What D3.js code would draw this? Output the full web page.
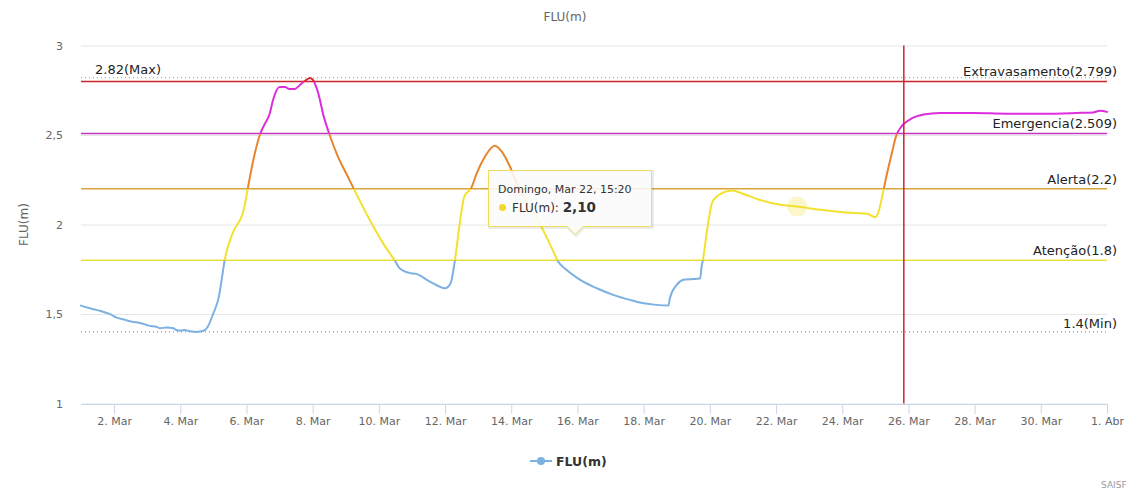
<!DOCTYPE html>
<html>
<head>
<meta charset="utf-8">
<script src="https://cdn.jsdelivr.net/npm/d3@7/dist/d3.min.js"></script>
<style>
  html, body { margin: 0; padding: 0; background: #fff; }
  svg { display: block; font-family: "DejaVu Sans", sans-serif; }
</style>
</head>
<body>
<svg id="chart" width="1129" height="492"></svg>
<script>
// ---------- data ----------
const times = [
  "2020-03-01 00:00","2020-03-01 09:00","2020-03-01 14:00","2020-03-01 21:00",
  "2020-03-02 02:00","2020-03-02 08:00","2020-03-02 13:00","2020-03-02 16:00","2020-03-02 21:00",
  "2020-03-03 01:00","2020-03-03 07:00","2020-03-03 09:00","2020-03-03 14:00","2020-03-03 19:00","2020-03-03 21:00",
  "2020-03-04 01:00","2020-03-04 03:00","2020-03-04 07:00","2020-03-04 12:00","2020-03-04 14:00","2020-03-04 18:00","2020-03-04 20:00",
  "2020-03-05 00:00","2020-03-05 04:00","2020-03-05 06:00","2020-03-05 08:00","2020-03-05 14:00","2020-03-05 22:00",
  "2020-03-06 01:00","2020-03-06 05:00","2020-03-06 10:00","2020-03-06 13:00","2020-03-06 17:00","2020-03-06 19:00",
  "2020-03-07 00:00","2020-03-07 04:00","2020-03-07 07:00","2020-03-07 11:00","2020-03-07 15:00","2020-03-07 18:00","2020-03-07 22:00",
  "2020-03-08 00:00","2020-03-08 04:00","2020-03-08 08:00","2020-03-08 12:00","2020-03-08 18:00",
  "2020-03-09 01:00","2020-03-09 13:00","2020-03-09 20:00",
  "2020-03-10 03:00","2020-03-10 12:00","2020-03-10 15:00","2020-03-10 23:00",
  "2020-03-11 03:00","2020-03-11 13:00",
  "2020-03-12 00:00","2020-03-12 04:00","2020-03-12 07:00","2020-03-12 11:00","2020-03-12 14:00","2020-03-12 19:00","2020-03-12 23:00",
  "2020-03-13 05:00","2020-03-13 12:00","2020-03-13 17:00","2020-03-13 23:00",
  "2020-03-14 04:00","2020-03-14 23:00",
  "2020-03-15 06:00","2020-03-15 10:00","2020-03-15 16:00",
  "2020-03-16 02:00","2020-03-16 14:00",
  "2020-03-17 02:00","2020-03-17 14:00",
  "2020-03-18 00:00","2020-03-18 09:00","2020-03-18 18:00","2020-03-18 19:00",
  "2020-03-19 00:00","2020-03-19 05:00","2020-03-19 12:00","2020-03-19 17:00","2020-03-19 18:00","2020-03-19 19:00","2020-03-19 22:00",
  "2020-03-20 02:00","2020-03-20 09:00","2020-03-20 16:00",
  "2020-03-21 00:00","2020-03-21 12:00",
  "2020-03-22 03:00","2020-03-22 15:20",
  "2020-03-23 08:00",
  "2020-03-24 03:00","2020-03-24 18:00",
  "2020-03-25 00:00","2020-03-25 02:00","2020-03-25 06:00","2020-03-25 08:00","2020-03-25 12:00","2020-03-25 15:00","2020-03-25 19:00",
  "2020-03-26 01:00","2020-03-26 11:00","2020-03-26 23:00",
  "2020-03-27 23:00","2020-03-28 23:00","2020-03-30 02:00","2020-03-31 02:00",
  "2020-03-31 14:00","2020-03-31 19:00","2020-04-01 00:00"
];
const levels = [
  1.547,1.527,1.517,1.499,
  1.480,1.467,1.457,1.454,1.446,
  1.435,1.428,1.421,1.424,1.421,1.411,
  1.407,1.411,1.404,1.400,1.402,1.411,1.430,
  1.504,1.597,1.691,1.793,1.952,2.082,
  2.204,2.362,2.507,2.558,2.623,2.688,
  2.768,2.768,2.757,2.757,2.781,2.800,2.819,
  2.809,2.735,2.604,2.507,2.385,
  2.275,2.090,1.989,
  1.896,1.793,1.756,1.728,
  1.724,1.681,
  1.644,1.672,1.793,2.026,2.157,2.204,2.287,
  2.380,2.440,2.408,2.324,
  2.232,1.970,
  1.858,1.793,1.747,
  1.691,1.644,
  1.607,1.579,
  1.560,1.551,1.547,1.588,
  1.663,1.691,1.695,1.700,1.765,1.803,1.970,
  2.129,2.176,2.190,
  2.172,2.138,
  2.110,2.100,
  2.082,
  2.067,2.060,
  2.041,2.064,2.194,2.268,2.399,2.492,2.548,
  2.586,2.614,2.623,
  2.623,2.619,2.619,2.623,
  2.626,2.636,2.629
];
// reference levels
const refNames  = ["Extravasamento", "Emergencia", "Alerta", "Atenção"];
const refValues = [2.799, 2.509, 2.2, 1.8];
const refColors = ["#c9262c", "#c236c2", "#d6a53c", "#ebdf3e"];
const maxValue = 2.82, minValue = 1.4;
// zones of the series colour
const zoneLimits = [1.0, 1.8, 2.2, 2.509, 2.799, 3.0];
const zoneColors = ["#7cb1e2", "#f2e12e", "#e8852c", "#dc2edc", "#e0262a"];
const yTicks = [1, 1.5, 2, 2.5, 3];
const xTickDays = ["2020-03-02","2020-03-04","2020-03-06","2020-03-08","2020-03-10","2020-03-12","2020-03-14",
  "2020-03-16","2020-03-18","2020-03-20","2020-03-22","2020-03-24","2020-03-26","2020-03-28","2020-03-30","2020-04-01"];
const monthsPt = ["Jan","Fev","Mar","Abr","Mai","Jun","Jul","Ago","Set","Out","Nov","Dez"];
const nowLine = "2020-03-25 20:40";
const hoverTime = "2020-03-22 15:20";
const seriesName = "FLU(m)";

// ---------- chart ----------
const parse = d3.timeParse("%Y-%m-%d %H:%M");
const parseDay = d3.timeParse("%Y-%m-%d");
const data = times.map((t, i) => ({ t: parse(t), v: levels[i] }));

const svg = d3.select("#chart");
const pLeft = 81, pRight = 1107, pTop = 45.5, pBottom = 403.5;

const x = d3.scaleTime().domain(d3.extent(data, d => d.t)).range([pLeft, pRight]);
const y = d3.scaleLinear().domain([1, 3]).range([pBottom, pTop]);

// title
svg.append("text").attr("x", 565).attr("y", 21).attr("text-anchor", "middle")
  .attr("fill", "#666").attr("font-size", 12).text(seriesName);

// grid
svg.append("g").selectAll("line").data(yTicks).join("line")
  .attr("x1", pLeft).attr("x2", pRight)
  .attr("y1", d => y(d) + 0.5).attr("y2", d => y(d) + 0.5)
  .attr("stroke", "#e6e6e6").attr("stroke-width", 1);

// y axis labels
const fmtComma = d => String(d).replace(".", ",");
svg.append("g").selectAll("text").data(yTicks).join("text")
  .attr("x", 63).attr("y", d => y(d) + 4).attr("text-anchor", "end")
  .attr("fill", "#666").attr("font-size", 11).text(fmtComma);
svg.append("text").attr("transform", `translate(28,${(pTop + pBottom) / 2}) rotate(-90)`)
  .attr("text-anchor", "middle").attr("fill", "#666").attr("font-size", 12).text(seriesName);

// x axis
const xTicks = xTickDays.map(parseDay);
const xAxis = d3.axisBottom(x).tickValues(xTicks).tickSize(10).tickSizeOuter(0)
  .tickFormat(d => d.getDate() + ". " + monthsPt[d.getMonth()]);
const gx = svg.append("g").attr("transform", `translate(0,${pBottom + 0.5})`).call(xAxis);
gx.select(".domain").attr("stroke", "#ccd6eb");
gx.selectAll(".tick line").attr("stroke", "#ccd6eb");
gx.selectAll(".tick text").attr("fill", "#666").attr("font-size", 11)
  .attr("font-family", "DejaVu Sans, sans-serif").attr("dy", "0.9em").attr("y", 11);

// max / min dotted lines
[[maxValue, "#999"], [minValue, "#777"]].forEach(([v, c]) => {
  svg.append("line").attr("x1", pLeft).attr("x2", pRight)
    .attr("y1", y(v)).attr("y2", y(v))
    .attr("stroke", c).attr("stroke-width", 1).attr("stroke-dasharray", "1,3");
});

// reference plot lines
refValues.forEach((v, i) => {
  svg.append("line").attr("x1", pLeft).attr("x2", pRight)
    .attr("y1", y(v)).attr("y2", y(v))
    .attr("stroke", refColors[i]).attr("stroke-width", 1.5);
});

// series with zones
const defs = svg.append("defs");
const line = d3.line().x(d => x(d.t)).y(d => y(d.v)).curve(d3.curveMonotoneX);
zoneColors.forEach((c, i) => {
  const lo = zoneLimits[i], hi = zoneLimits[i + 1];
  const id = "zone" + i;
  const yTopClip = i === zoneColors.length - 1 ? 0 : y(hi);
  const yBotClip = i === 0 ? 492 : y(lo);
  defs.append("clipPath").attr("id", id).append("rect")
    .attr("x", pLeft - 5).attr("width", pRight - pLeft + 10)
    .attr("y", yTopClip).attr("height", yBotClip - yTopClip);
  svg.append("path").datum(data).attr("clip-path", `url(#${id})`)
    .attr("d", line).attr("fill", "none").attr("stroke", c)
    .attr("stroke-width", 2).attr("stroke-linejoin", "round").attr("stroke-linecap", "round");
});

// current-time red vertical line
svg.append("line").attr("x1", x(parse(nowLine))).attr("x2", x(parse(nowLine)))
  .attr("y1", pTop).attr("y2", pBottom).attr("stroke", "#c9262c").attr("stroke-width", 1.5);

// labels
svg.append("text").attr("x", pLeft + 14).attr("y", y(maxValue) - 4)
  .attr("fill", "#222").attr("font-size", 13).text(String(maxValue) + "(Max)");
refValues.forEach((v, i) => {
  svg.append("text").attr("x", pRight + 10).attr("y", y(v) - 5).attr("text-anchor", "end")
    .attr("fill", "#222").attr("font-size", 13).text(`${refNames[i]}(${v})`);
});
svg.append("text").attr("x", pRight + 10).attr("y", y(minValue) - 4).attr("text-anchor", "end")
  .attr("fill", "#222").attr("font-size", 13).text(String(minValue) + "(Min)");

// hover halo
const hp = data.find(d => +d.t === +parse(hoverTime));
svg.append("circle").attr("cx", x(hp.t)).attr("cy", y(hp.v)).attr("r", 10)
  .attr("fill", "#f2e12e").attr("opacity", 0.25);

// tooltip
const tt = svg.append("g");
const bx = 488.5, by = 170.5, bw = 163, bh = 56, px = 575;
const tpath = `M${bx},${by} H${bx + bw} V${by + bh} H${px + 8} L${px},${by + bh + 8} L${px - 8},${by + bh} H${bx} Z`;
tt.append("path").attr("d", tpath).attr("transform", "translate(1,1)")
  .attr("fill", "none").attr("stroke", "rgba(0,0,0,0.08)").attr("stroke-width", 3);
tt.append("path").attr("d", tpath).attr("fill", "rgba(250,250,250,0.88)")
  .attr("stroke", "#eedc5a").attr("stroke-width", 1);
const daysPt = ["Domingo","Segunda","Terça","Quarta","Quinta","Sexta","Sábado"];
const hdr = daysPt[hp.t.getDay()] + ", " + monthsPt[hp.t.getMonth()] + " " + hp.t.getDate() + ", " + d3.timeFormat("%H:%M")(hp.t);
tt.append("text").attr("x", 498).attr("y", 193).attr("font-size", 11).attr("fill", "#333").text(hdr);
tt.append("circle").attr("cx", 502.5).attr("cy", 207.5).attr("r", 3.5).attr("fill", "#f2d82a");
const t2 = tt.append("text").attr("x", 512).attr("y", 212).attr("fill", "#333");
t2.append("tspan").attr("font-size", 12).text(seriesName + ": ");
t2.append("tspan").attr("font-size", 13.5).attr("font-weight", "bold").text(hp.v.toFixed(2).replace(".", ","));

// legend
const lg = svg.append("g");
lg.append("line").attr("x1", 530).attr("x2", 552).attr("y1", 461).attr("y2", 461)
  .attr("stroke", zoneColors[0]).attr("stroke-width", 2);
lg.append("circle").attr("cx", 541).attr("cy", 461).attr("r", 4).attr("fill", zoneColors[0]);
lg.append("text").attr("x", 556).attr("y", 466).attr("font-size", 12.5).attr("font-weight", "bold")
  .attr("fill", "#333").text(seriesName);

// credits
svg.append("text").attr("x", 1101).attr("y", 488).attr("font-size", 9).attr("fill", "#999").text("SAISF");
</script>
</body>
</html>
